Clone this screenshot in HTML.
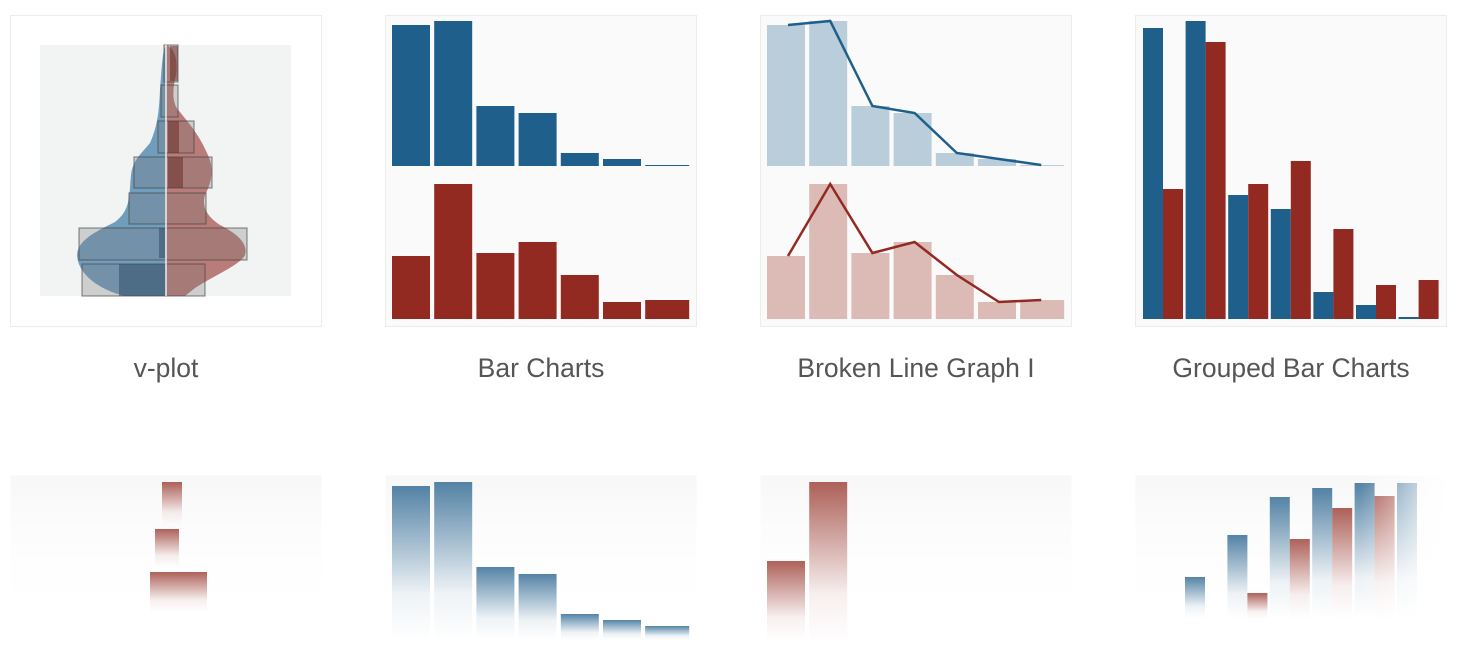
<!DOCTYPE html>
<html><head><meta charset="utf-8">
<style>
html,body{margin:0;padding:0;background:#fff;width:1468px;height:661px;overflow:hidden;font-family:"Liberation Sans",sans-serif;}
svg{display:block}
</style></head>
<body>
<svg id="s" width="1468" height="661" viewBox="0 0 1468 661">
<defs>
<linearGradient id="fb" x1="0" y1="0" x2="0" y2="1"><stop offset="0" stop-color="#2a6590" stop-opacity="0.8"/><stop offset="0.7" stop-color="#2a6590" stop-opacity="0.08"/><stop offset="1" stop-color="#2a6590" stop-opacity="0"/></linearGradient>
<linearGradient id="fr" x1="0" y1="0" x2="0" y2="1"><stop offset="0" stop-color="#9a3a30" stop-opacity="0.8"/><stop offset="0.7" stop-color="#9a3a30" stop-opacity="0.08"/><stop offset="1" stop-color="#9a3a30" stop-opacity="0"/></linearGradient>
<linearGradient id="fc" x1="0" y1="0" x2="0" y2="1"><stop offset="0" stop-color="#f2f2f2" stop-opacity="1"/><stop offset="1" stop-color="#ffffff" stop-opacity="0"/></linearGradient>
</defs>
</svg>
<script>
const NS='http://www.w3.org/2000/svg';
const svg=document.getElementById('s');
// ---- data ----
const barCats=['c1','c2','c3','c4','c5','c6','c7'];
const blueVals=[141,145,60,53,13,7,1];
const redVals=[63,135,66,77,44,17,19];
const groupBlue=[291,298,124,110,27,14,2];
const groupRed=[130,277,135,158,90,34,39];
const titles=['v-plot','Bar Charts','Broken Line Graph I','Grouped Bar Charts'];
const reflGroupBlue=[42,84,122,131,136,136];
const reflGroupRed=[0,26,80,111,123,0];

function el(tag,attrs,parent){const e=document.createElementNS(NS,tag);for(const k in attrs)e.setAttribute(k,attrs[k]);(parent||svg).appendChild(e);return e;}
const cardX=[10,385,760,1135];
cardX.forEach((x,i)=>{
  const c=el('rect',{x:x+0.5,y:15.5,width:311,height:311,fill:i==0?'#ffffff':'#fafafa',stroke:'#ececec'});
  
  
  const t=el('text',{x:x+156,y:377,'text-anchor':'middle','font-size':26.5,fill:'#555'});
  t.textContent=titles[i];
  
  
  const r=el('rect',{x:x+0.5,y:475.5,width:311,height:150,fill:'url(#fc)',opacity:0.6});
  
  
});
const bx0=392,pitch=42.2,bw=38;
function xb(i){return bx0+i*pitch;}
const topBase=166,botBase=319,scaleY=1;
function yTop(v){return topBase-v*scaleY;}
function yBot(v){return botBase-v*scaleY;}
barCats.forEach((c,i)=>{
  const w=i==6?44:bw;
  let r=el('rect',{x:xb(i),y:yTop(blueVals[i]),width:w,height:blueVals[i],fill:'#1f5f8b'});
  
  r=el('rect',{x:xb(i),y:yBot(redVals[i]),width:w,height:redVals[i],fill:'#922a22'});
  
});
const off=375;
let pb=[],pr=[];
barCats.forEach((c,i)=>{
  const w=i==6?44:bw;
  let r=el('rect',{x:xb(i)+off,y:yTop(blueVals[i]),width:w,height:blueVals[i],fill:'#b9cdda'});
  
  r=el('rect',{x:xb(i)+off,y:yBot(redVals[i]),width:w,height:redVals[i],fill:'#dcbbb7'});
  
  pb.push((xb(i)+off+bw/2+2)+','+yTop(blueVals[i]));
  pr.push((xb(i)+off+bw/2+2)+','+yBot(redVals[i]));
});
let l=el('polyline',{points:pb.join(' '),fill:'none',stroke:'#1f5f8b','stroke-width':2.5});

l=el('polyline',{points:pr.join(' '),fill:'none',stroke:'#922a22','stroke-width':2.5});

const gx0=1143,gp=42.6,gw=20;
groupBlue.forEach((v,i)=>{
  let r=el('rect',{x:gx0+i*gp,y:botBase-v,width:gw,height:v,fill:'#1f5f8b'});
  
  r=el('rect',{x:gx0+i*gp+gw,y:botBase-groupRed[i],width:gw,height:groupRed[i],fill:'#922a22'});
  
});
// V-plot
const g=el('g',{});
el('rect',{x:40,y:45,width:251,height:251,fill:'#f2f4f4'},g);
el('path',{d:'M166,45 C162,50 161,80 160,90 C159,110 158,125 150,143 C140,155 133,160 131,175 C129,195 131,210 115,222 C95,232 78,240 77,255 C78,275 100,290 125,296 L166,296 Z',fill:'#5b8db3',opacity:0.85},g);
el('path',{d:'M166,45 C175,48 178,60 176,75 C172,90 172,105 180,112 C190,125 200,135 210,160 C214,175 210,185 205,195 C202,205 205,215 220,225 C240,235 248,245 245,255 C240,265 215,275 195,288 L185,296 L166,296 Z',fill:'#b06b66',opacity:0.88},g);
[[164,45,14,37],[161,85,17,32],[158,121,36,32],[134,157,78,31],[129,193,77,31],[79,228,168,32],[82,264,123,32]].forEach((b,i)=>{
  const r=el('rect',{x:b[0],y:b[1],width:b[2],height:b[3],fill:'rgba(120,120,120,0.3)',stroke:'rgba(70,70,70,0.6)','stroke-width':1.2},g);
  
});
[[119,264,47,32,'#2e4f6a'],[168,157,15,31,'#6b2e2a'],[168,121,11,32,'#6b2e2a'],[159,228,6,30,'#2e4f6a'],[170,46,8,35,'#6b2e2a']].forEach(b=>el('rect',{x:b[0],y:b[1],width:b[2],height:b[3],fill:b[4],opacity:0.55},g));
el('line',{x1:166,y1:45,x2:166,y2:296,stroke:'#eee','stroke-width':1.5},g);
// Reflections
function fade(x,y,w,h,f,name){const r=el('rect',{x:x,y:y,width:w,height:h,fill:f});}
fade(162,482,20,43,'url(#fr)','refl-v-1');
fade(155,529,24,38,'url(#fr)','refl-v-2');
fade(150,572,57,40,'url(#fr)','refl-v-3');
barCats.forEach((c,i)=>{
  const w=i==6?44:bw;
  const top=461+(topBase-yTop(0))+(166-blueVals[i]);
  fade(xb(i),top,w,Math.max(640-top,4),'url(#fb)','refl-bar-'+c);
});
fade(xb(0)+off,561,bw,80,'url(#fr)','refl-line-0');
fade(xb(1)+off,482,bw,160,'url(#fr)','refl-line-1');
reflGroupBlue.forEach((v,i)=>{
  if(v>0) fade(1185+i*42.4,619-v,20,v,'url(#fb)','refl-group-blue-'+i);
  if(reflGroupRed[i]>0) fade(1205+i*42.4,619-reflGroupRed[i],20,reflGroupRed[i],'url(#fr)','refl-group-red-'+i);
});
const lg=el('linearGradient',{id:'rw',x1:0,y1:0,x2:1,y2:0},svg.querySelector('defs'));
el('stop',{offset:0,'stop-color':'#fff','stop-opacity':0},lg);el('stop',{offset:1,'stop-color':'#fff','stop-opacity':1},lg);
el('rect',{x:1360,y:470,width:90,height:191,fill:'url(#rw)'});
</script>
</body></html>
